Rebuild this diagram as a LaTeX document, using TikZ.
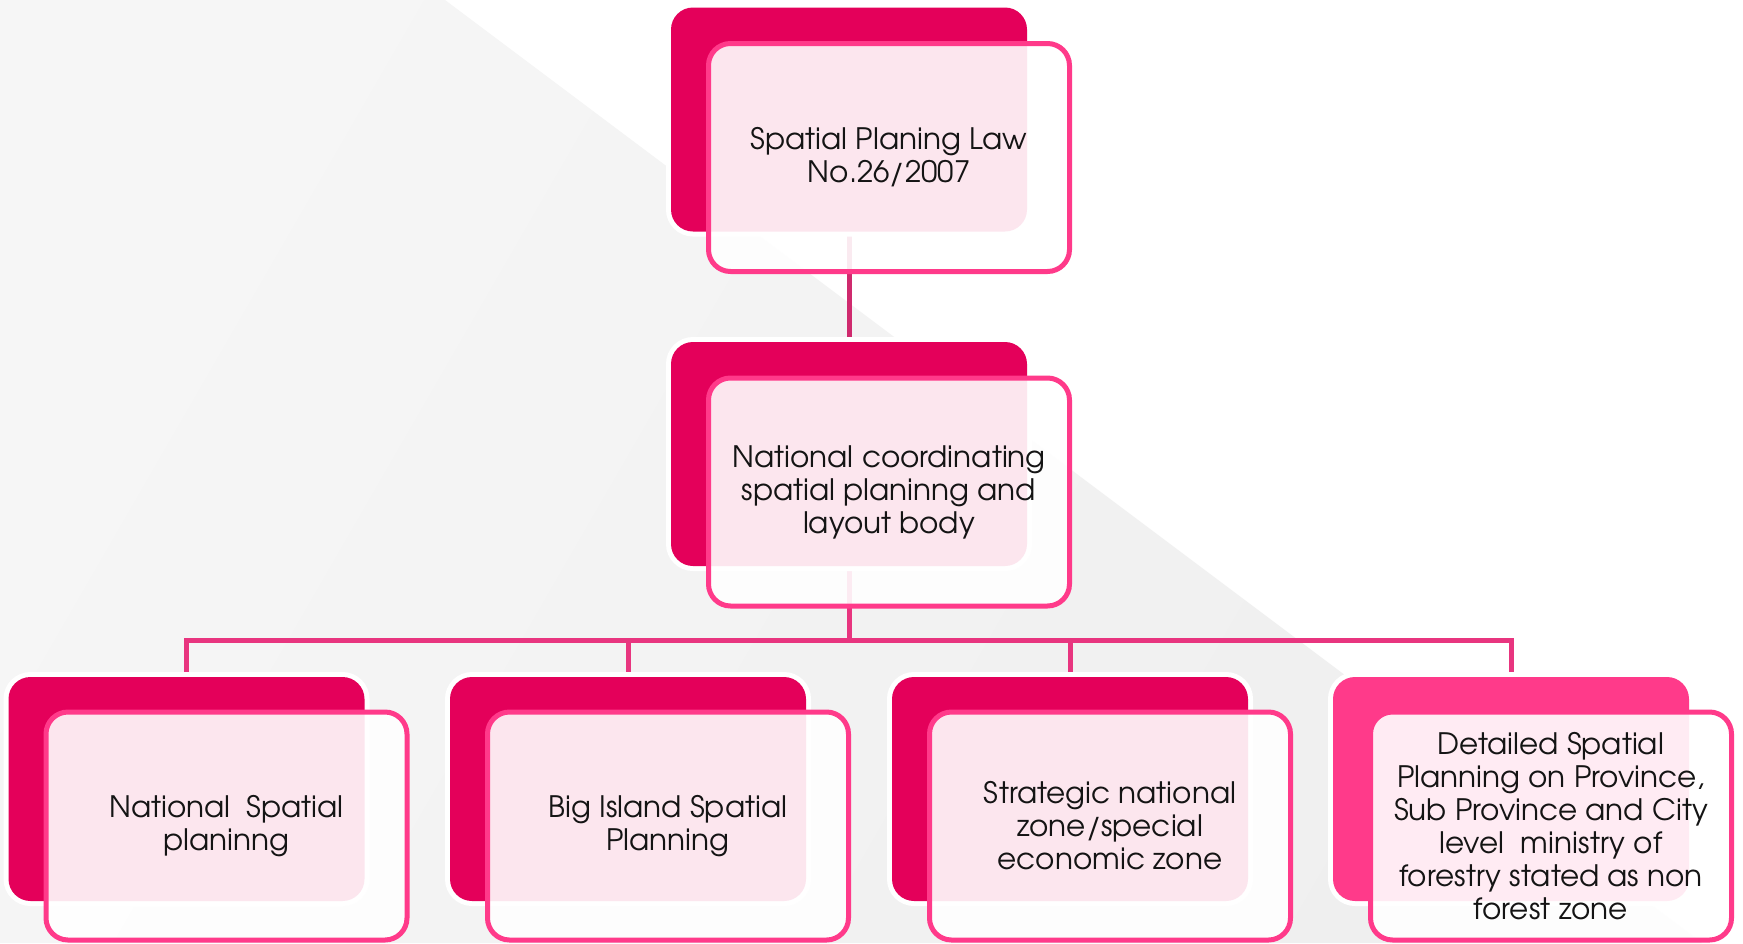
\documentclass[tikz,border=0pt]{standalone}
\usepackage{fontspec}
\setmainfont{TeX Gyre Adventor}
\definecolor{darkpink}{HTML}{E4005A}
\definecolor{hotpink}{HTML}{FF3A8A}
\definecolor{linepink}{HTML}{E8357F}
\definecolor{stempink}{HTML}{CF2A6E}
\definecolor{bglight}{HTML}{F6F6F6}
\definecolor{bgdark}{HTML}{EFEFEF}
\pgfdeclarelayer{back}
\pgfdeclarelayer{lines}
\pgfsetlayers{back,lines,main}
\begin{document}
\begin{tikzpicture}[x=1pt,y=-1pt,
  backbox/.style={rectangle, rounded corners=22pt, fill=darkpink, minimum width=356pt, minimum height=224pt, inner sep=0pt, preaction={draw=white, line width=10pt}},
  frontbox/.style={rectangle, rounded corners=22pt, draw=hotpink, line width=5pt, fill=white, fill opacity=0.9, text opacity=1, minimum width=361pt, minimum height=228pt, inner sep=0pt, align=center, font=\fontsize{29.5}{33}\selectfont, text=black!92},
  link/.style={line width=5pt, draw=linepink, line join=miter},
  stem/.style={line width=5pt, draw=stempink}]
\useasboundingbox (0,0) rectangle (1743,943);
\begin{pgfonlayer}{back}
\fill[white] (0,0) rectangle (1743,943);
\shade[shading=axis, left color=bglight, right color=bgdark, shading angle=60] (0,0) -- (445,0) -- (1702,943) -- (0,943) -- cycle;
\end{pgfonlayer}

% top
\node[backbox] (tB) at (849,119.5) {};
\node[frontbox] (t) at (889,157.5) {Spatial Planing Law\\No.26/2007};
% middle
\node[backbox] (mB) at (849,454) {};
\node[frontbox] (m) at (889,492) {National coordinating\\spatial planinng and\\layout body};
% bottom row
\node[backbox] (aB) at (186.5,789) {};
\node[frontbox] (a) at (226.5,826) {National~ Spatial\\planinng};
\node[backbox] (bB) at (628,789) {};
\node[frontbox] (b) at (668,826) {Big Island Spatial\\Planning};
\node[backbox] (cB) at (1070,789) {};
\node[frontbox] (c) at (1110,826) {Strategic national\\zone/special\\economic zone};
\node[backbox, fill=hotpink] (dB) at (1511,789) {};
\node[frontbox] (d) at (1551,826) {Detailed Spatial\\Planning on Province,\\Sub Province and City\\level~ ministry of\\forestry stated as non\\forest zone};

\begin{pgfonlayer}{lines}
\coordinate (bus) at (849,640);
\draw[stem] (tB.south) -- (mB.north);
\draw[link] (mB.south) -- (bus);
\draw[link] (aB.north) -- (aB.north |- bus) -- (dB.north |- bus) -- (dB.north);
\draw[link] (bB.north) -- (bB.north |- bus);
\draw[link] (cB.north) -- (cB.north |- bus);
\end{pgfonlayer}
\end{tikzpicture}
\end{document}
